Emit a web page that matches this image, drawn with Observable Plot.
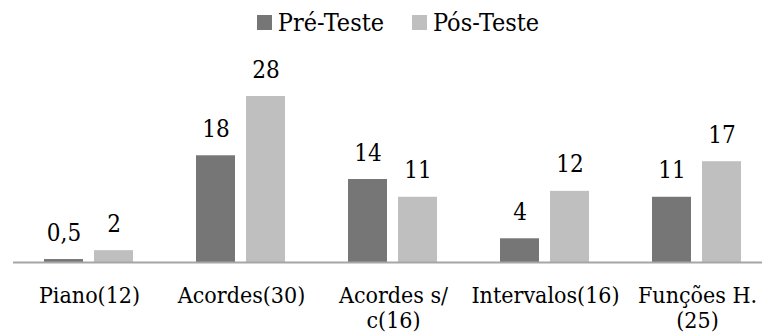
<!DOCTYPE html>
<html>
<head>
<meta charset="utf-8">
<script src="https://cdn.jsdelivr.net/npm/d3@7"></script>
<script src="https://cdn.jsdelivr.net/npm/@observablehq/plot@0.6"></script>
<style>
  html, body { margin: 0; padding: 0; background: #fff; }
  #chart { width: 762px; height: 334px; overflow: hidden; }
  .lg-swatches {
    font-family: "DejaVu Serif Condensed", "DejaVu Serif", serif;
    font-size: 25px;
    color: #000;
    margin: 0 !important;
    height: 45px;
    min-height: 45px !important;
    box-sizing: border-box;
    padding-top: 8px;
    padding-left: 34px;
    justify-content: center;
    align-items: flex-start !important;
  }
  .lg-swatch { margin-right: 28px !important; }
  .lg-swatch:last-child { margin-right: 0 !important; }
  .lg-swatch > svg { margin-right: 6px !important; }
  svg.plot { display: block; }
</style>
</head>
<body>
<div id="chart"></div>
<script>
const categories = ["Piano(12)", "Acordes(30)", "Acordes s/\nc(16)", "Intervalos(16)", "Funções H.\n(25)"];
const series = ["Pré-Teste", "Pós-Teste"];
const preTeste = [0.5, 18, 14, 4, 11];
const posTeste = [2, 28, 11, 12, 17];
const colors = ["#767676", "#bfbfbf"];

const data = [];
categories.forEach((c, i) => {
  data.push({group: c, serie: series[0], value: preTeste[i]});
  data.push({group: c, serie: series[1], value: posTeste[i]});
});

const fmt = v => String(v).replace(".", ",");
const font = "'DejaVu Serif Condensed', 'DejaVu Serif', serif";

const plot = Plot.plot({
  width: 762,
  height: 289,
  marginTop: 0,
  marginBottom: 72,
  marginLeft: 12,
  marginRight: 0,
  style: {fontFamily: font, color: "#000", background: "#fff"},
  fx: {domain: categories, range: [12, 774], padding: 0},
  x: {domain: series, paddingInner: 11 / 51, paddingOuter: 0.6, axis: null},
  y: {domain: [0, 28], range: [217, 51], axis: null},
  color: {domain: series, range: colors},
  marks: [
    Plot.barY(data, {fx: "group", x: "serie", y: "value", fill: "serie"}),
    Plot.ruleY([0], {stroke: "#a6a6a6", strokeWidth: 2}),
    Plot.text(data, {fx: "group", x: "serie", y: "value", text: d => fmt(d.value),
      dy: -19, lineAnchor: "bottom", fontSize: 24, fill: "#000"}),
    Plot.axisFx({anchor: "bottom", tickSize: 0, tickPadding: 23, fontSize: 23,
      lineHeight: 1.08, label: null, fill: "#000"})
  ]
});

const legend = plot.legend("color", {className: "lg", swatchSize: 15});
const chart = document.getElementById("chart");
chart.appendChild(legend);
chart.appendChild(plot);
</script>
</body>
</html>
